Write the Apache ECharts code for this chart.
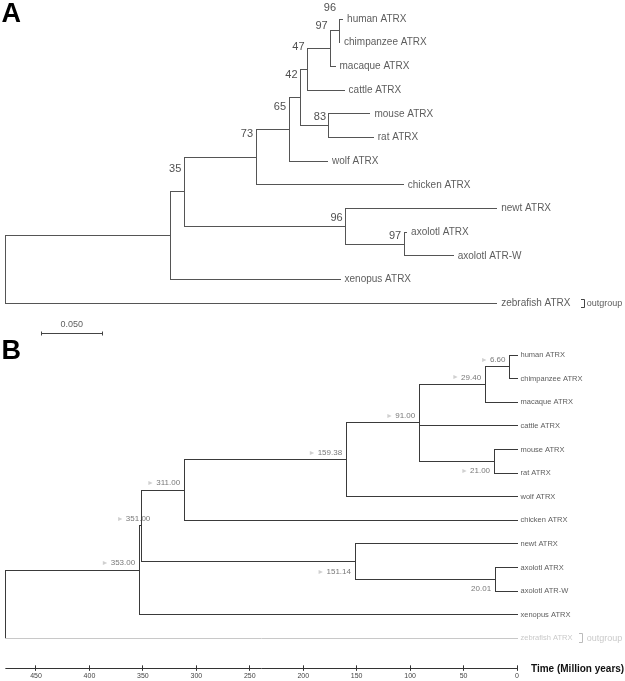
<!DOCTYPE html>
<html><head><meta charset="utf-8">
<script src="https://cdn.jsdelivr.net/npm/echarts@6/dist/echarts.min.js"></script>
<style>html,body{margin:0;padding:0;background:#fff}#c{width:625px;height:681px}</style>
</head><body><div id="c"></div><script>
// ================= DATA =================
const taxa = ['human ATRX','chimpanzee ATRX','macaque ATRX','cattle ATRX','mouse ATRX','rat ATRX','wolf ATRX','chicken ATRX','newt ATRX','axolotl ATRX','axolotl ATR-W','xenopus ATRX','zebrafish ATRX'];
const outgroupTaxon = 'zebrafish ATRX';
const outgroupText = 'outgroup';

// Panel A: branch lengths (substitutions / site) and bootstrap support
const tipBranchA = [0.0029,0.0004,0.0035,0.0298,0.0334,0.0361,0.0314,0.1201,0.1232,0.0020,0.0400,0.1381,0.4005];
const cladeNamesA = ['hominini','catarrhini','primCattle','murinae','n42','mammalia','amniota','axolotl','caudata','n35','tetrapoda','root'];
const cladeChildrenA = [
  ['human ATRX','chimpanzee ATRX'],
  ['hominini','macaque ATRX'],
  ['catarrhini','cattle ATRX'],
  ['mouse ATRX','rat ATRX'],
  ['primCattle','murinae'],
  ['n42','wolf ATRX'],
  ['mammalia','chicken ATRX'],
  ['axolotl ATRX','axolotl ATR-W'],
  ['newt ATRX','axolotl'],
  ['amniota','caudata'],
  ['n35','xenopus ATRX'],
  ['tetrapoda','zebrafish ATRX']
];
const cladeBranchA = [0.0068,0.0189,0.0057,0.0232,0.0094,0.0269,0.0585,0.0477,0.1316,0.0111,0.1346,0];
const bootstrapA = [96,97,47,83,42,65,73,97,96,35,null,null];
const scaleBarA = 0.05;

// Panel B: divergence times (million years)
const cladeNamesB = ['hominini','catarrhini','murinae','boreoeutheria','mammalia','amniota','axolotl','caudata','n351','tetrapoda','root'];
const cladeChildrenB = [
  ['human ATRX','chimpanzee ATRX'],
  ['hominini','macaque ATRX'],
  ['mouse ATRX','rat ATRX'],
  ['catarrhini','cattle ATRX','murinae'],
  ['boreoeutheria','wolf ATRX'],
  ['mammalia','chicken ATRX'],
  ['axolotl ATRX','axolotl ATR-W'],
  ['newt ATRX','axolotl'],
  ['amniota','caudata'],
  ['n351','xenopus ATRX'],
  ['tetrapoda','zebrafish ATRX']
];
const cladeAgesB = [6.60,29.40,21.00,91.00,159.38,311.00,20.01,151.14,351.00,353.00,478.3];
const ageLabelledB = [true,true,true,true,true,true,true,true,true,true,false];
const timeTicksB = [0,50,100,150,200,250,300,350,400,450];
const timeAxisTitle = 'Time (Million years)';

// ================= LAYOUT / STYLE =================
const FONT = "'Liberation Sans', Arial, sans-serif";
const NARROW = "'Liberation Sans Narrow', 'Liberation Sans', Arial, sans-serif";
const ROW_A = 23.69, ROW_B = 23.61;
const A = {left: 5.7, firstRow: 19, pxPerUnit: 1226, xMax: 0.5, yMin: -0.5, yMax: 13.5};
const B = {left: 5.75, firstRow: 355, right: 108, yMin: -0.5, yMax: 13.25};
const bootstrapLowA = ['murinae','axolotl','caudata'];
const ageBelowB = ['murinae','axolotl','caudata'];
const ageNoMarkerB = ['axolotl'];
const ageNudgeB = {n351: 13};
const scaleBarPos = {start: 0.0288, row: 13.28};

// ================= TREE LAYOUT =================
function buildTree(names, children, xOf) {
  const ci = {}; names.forEach((n, i) => { ci[n] = i; });
  const nodes = [];
  function visit(name, parentX) {
    const tip = !(name in ci);
    const i = tip ? taxa.indexOf(name) : ci[name];
    const x = xOf(tip, i, parentX);
    let node;
    if (tip) node = {name, x, y: i, tip: true};
    else {
      const kids = children[i].map(k => visit(k, x));
      node = {name, x, y: (kids[0].y + kids[kids.length - 1].y) / 2, tip: false, kids, idx: i};
    }
    nodes.push(node);
    return node;
  }
  visit('root', null);
  return nodes;
}
function segmentsOf(nodes) {
  const segs = [];
  nodes.forEach(n => {
    if (n.tip) return;
    segs.push([n.x, n.kids[0].y, n.x, n.kids[n.kids.length - 1].y, 0]);
    n.kids.forEach(k => segs.push([n.x, k.y, k.x, k.y, k.name === outgroupTaxon ? 1 : 0]));
  });
  return segs;
}
const nodesA = buildTree(cladeNamesA, cladeChildrenA,
  (tip, i, px) => (px === null ? 0 : px) + (tip ? tipBranchA[i] : cladeBranchA[i]));
const nodesB = buildTree(cladeNamesB, cladeChildrenB, (tip, i) => tip ? 0 : cladeAgesB[i]);
const segsA = segmentsOf(nodesA), segsB = segmentsOf(nodesB);
const tipsA = nodesA.filter(n => n.tip), tipsB = nodesB.filter(n => n.tip);
const outA = tipsA.find(n => n.name === outgroupTaxon), outB = tipsB.find(n => n.name === outgroupTaxon);

const snap = v => Math.round(v - 0.5) + 0.5;
function segRender(color, gray) {
  return function (params, api) {
    const p1 = api.coord([api.value(0), api.value(1)]);
    const p2 = api.coord([api.value(2), api.value(3)]);
    return {type: 'line', shape: {x1: snap(p1[0]), y1: snap(p1[1]), x2: snap(p2[0]), y2: snap(p2[1])},
      style: {stroke: api.value(4) ? gray : color, lineWidth: 1, lineCap: 'square'}};
  };
}
function bracketRender(dx, half, color) {
  return function (params, api) {
    const p = api.coord([api.value(0), api.value(1)]);
    const x = snap(p[0] + dx), y = p[1];
    return {type: 'polyline', shape: {points: [[x - 3.5, snap(y - half)], [x, snap(y - half)], [x, snap(y + half)], [x - 3.5, snap(y + half)]]},
      style: {stroke: color, fill: null, lineWidth: 1}};
  };
}
const hidden = {color: 'rgba(0,0,0,0)'};

const chart = echarts.init(document.getElementById('c'), null, {renderer: 'canvas'});
const gridAH = (A.yMax - A.yMin) * ROW_A;
const gridBH = (B.yMax - B.yMin) * ROW_B;
chart.setOption({
  animation: false,
  backgroundColor: '#fff',
  grid: [
    {left: A.left, top: A.firstRow + A.yMin * ROW_A, width: A.xMax * A.pxPerUnit, height: gridAH},
    {left: B.left, top: B.firstRow + B.yMin * ROW_B, right: B.right, height: gridBH}
  ],
  xAxis: [
    {gridIndex: 0, type: 'value', min: 0, max: A.xMax, show: false},
    {gridIndex: 1, type: 'value', inverse: true, min: 0, max: cladeAgesB[cladeNamesB.indexOf('root')], interval: 50,
      axisLine: {onZero: false, lineStyle: {color: '#333', width: 1}},
      axisTick: {show: false},
      splitLine: {show: false},
      axisLabel: {customValues: timeTicksB, fontSize: 7, color: '#444', margin: 5, fontFamily: FONT}}
  ],
  yAxis: [
    {gridIndex: 0, type: 'value', inverse: true, min: A.yMin, max: A.yMax, show: false},
    {gridIndex: 1, type: 'value', inverse: true, min: B.yMin, max: B.yMax, show: false}
  ],
  graphic: [
    {type: 'text', left: 1.5, top: 1.5, style: {text: 'A', font: 'bold 27px ' + FONT, fill: '#000'}},
    {type: 'text', left: 1.5, top: 337.8, style: {text: 'B', font: 'bold 27px ' + FONT, fill: '#000'}},
    {type: 'text', left: 531, top: 664.5, style: {text: timeAxisTitle, font: 'bold 10px ' + FONT, fill: '#111'}}
  ],
  series: [
    // ---- Panel A ----
    {type: 'custom', xAxisIndex: 0, yAxisIndex: 0, clip: false, silent: true,
      data: segsA, renderItem: segRender('#555', '#555')},
    {type: 'scatter', xAxisIndex: 0, yAxisIndex: 0, symbolSize: 1, silent: true, itemStyle: hidden,
      data: tipsA.map(n => ({name: n.name, value: [n.x, n.y]})),
      label: {show: true, position: 'right', distance: 4, formatter: '{b}', fontSize: 10, fontFamily: FONT, color: '#333'}},
    {type: 'scatter', xAxisIndex: 0, yAxisIndex: 0, symbolSize: 1, silent: true, itemStyle: hidden,
      data: nodesA.filter(n => !n.tip && bootstrapA[n.idx] != null).map(n => ({
        name: String(bootstrapA[n.idx]), value: [n.x, n.y],
        label: {offset: [0, bootstrapLowA.includes(n.name) ? -8.5 : -22.7]}})),
      label: {show: true, position: 'left', distance: 2.5, formatter: '{b}', fontSize: 11, fontFamily: NARROW, color: '#222'}},
    {type: 'custom', xAxisIndex: 0, yAxisIndex: 0, clip: false, silent: true,
      data: [[scaleBarPos.start, scaleBarPos.start + scaleBarA, scaleBarPos.row]],
      renderItem: function (params, api) {
        const p1 = api.coord([api.value(0), api.value(2)]);
        const p2 = api.coord([api.value(1), api.value(2)]);
        const y = snap(p1[1]), x1 = snap(p1[0]), x2 = snap(p2[0]);
        const st = {stroke: '#444', lineWidth: 1};
        return {type: 'group', children: [
          {type: 'line', shape: {x1, y1: y, x2, y2: y}, style: st},
          {type: 'line', shape: {x1, y1: y - 2, x2: x1, y2: y + 2}, style: st},
          {type: 'line', shape: {x1: x2, y1: y - 2, x2, y2: y + 2}, style: st}
        ]};
      }},
    {type: 'scatter', xAxisIndex: 0, yAxisIndex: 0, symbolSize: 1, silent: true, itemStyle: hidden,
      data: [{name: scaleBarA.toFixed(3), value: [scaleBarPos.start + scaleBarA / 2, scaleBarPos.row]}],
      label: {show: true, position: 'top', distance: 4, formatter: '{b}', fontSize: 9, fontFamily: NARROW, color: '#333'}},
    {type: 'custom', xAxisIndex: 0, yAxisIndex: 0, clip: false, silent: true,
      data: [[outA.x, outA.y]], renderItem: bracketRender(87.6, 4, '#444')},
    {type: 'scatter', xAxisIndex: 0, yAxisIndex: 0, symbolSize: 1, silent: true, itemStyle: hidden,
      data: [{name: outgroupText, value: [outA.x, outA.y]}],
      label: {show: true, position: 'right', distance: 89.5, formatter: '{b}', fontSize: 9, fontFamily: FONT, color: '#333'}},

    // ---- Panel B ----
    {type: 'custom', xAxisIndex: 1, yAxisIndex: 1, clip: false, silent: true,
      data: segsB, renderItem: segRender('#3a3a3a', '#c8c8c8')},
    {type: 'scatter', xAxisIndex: 1, yAxisIndex: 1, symbolSize: 1, silent: true, itemStyle: hidden,
      data: tipsB.map(n => ({name: n.name, value: [n.x, n.y],
        label: {color: n.name === outgroupTaxon ? '#bbb' : '#333'}})),
      label: {show: true, position: 'right', distance: 3, formatter: '{b}', fontSize: 7.5, fontFamily: FONT}},
    {type: 'scatter', xAxisIndex: 1, yAxisIndex: 1, symbolSize: 1, silent: true, itemStyle: hidden,
      data: nodesB.filter(n => !n.tip && ageLabelledB[n.idx]).map(n => ({
        name: cladeAgesB[n.idx].toFixed(2), value: [n.x, n.y], marker: !ageNoMarkerB.includes(n.name),
        label: {offset: [ageNudgeB[n.name] || 0, ageBelowB.includes(n.name) ? 10 : -7]}})),
      label: {show: true, position: 'left', distance: 4, fontSize: 8, fontFamily: FONT, color: '#555',
        formatter: p => (p.data.marker ? '{m|►} ' : '') + p.name,
        rich: {m: {fontSize: 7, color: '#c4c4c4'}}}},
    {type: 'custom', xAxisIndex: 1, yAxisIndex: 1, clip: false, silent: true,
      data: timeTicksB.map(t => [t, B.yMax]),
      renderItem: function (params, api) {
        const p = api.coord([api.value(0), api.value(1)]);
        const x = snap(p[0]);
        return {type: 'line', shape: {x1: x, y1: p[1] - 2.5, x2: x, y2: p[1] + 3}, style: {stroke: '#333', lineWidth: 1}};
      }},
    {type: 'custom', xAxisIndex: 1, yAxisIndex: 1, clip: false, silent: true,
      data: [[outB.x, outB.y]], renderItem: bracketRender(65.7, 4.5, '#bbb')},
    {type: 'scatter', xAxisIndex: 1, yAxisIndex: 1, symbolSize: 1, silent: true, itemStyle: hidden,
      data: [{name: outgroupText, value: [outB.x, outB.y]}],
      label: {show: true, position: 'right', distance: 69.2, formatter: '{b}', fontSize: 9, fontFamily: FONT, color: '#bbb'}}
  ]
});
</script></body></html>
